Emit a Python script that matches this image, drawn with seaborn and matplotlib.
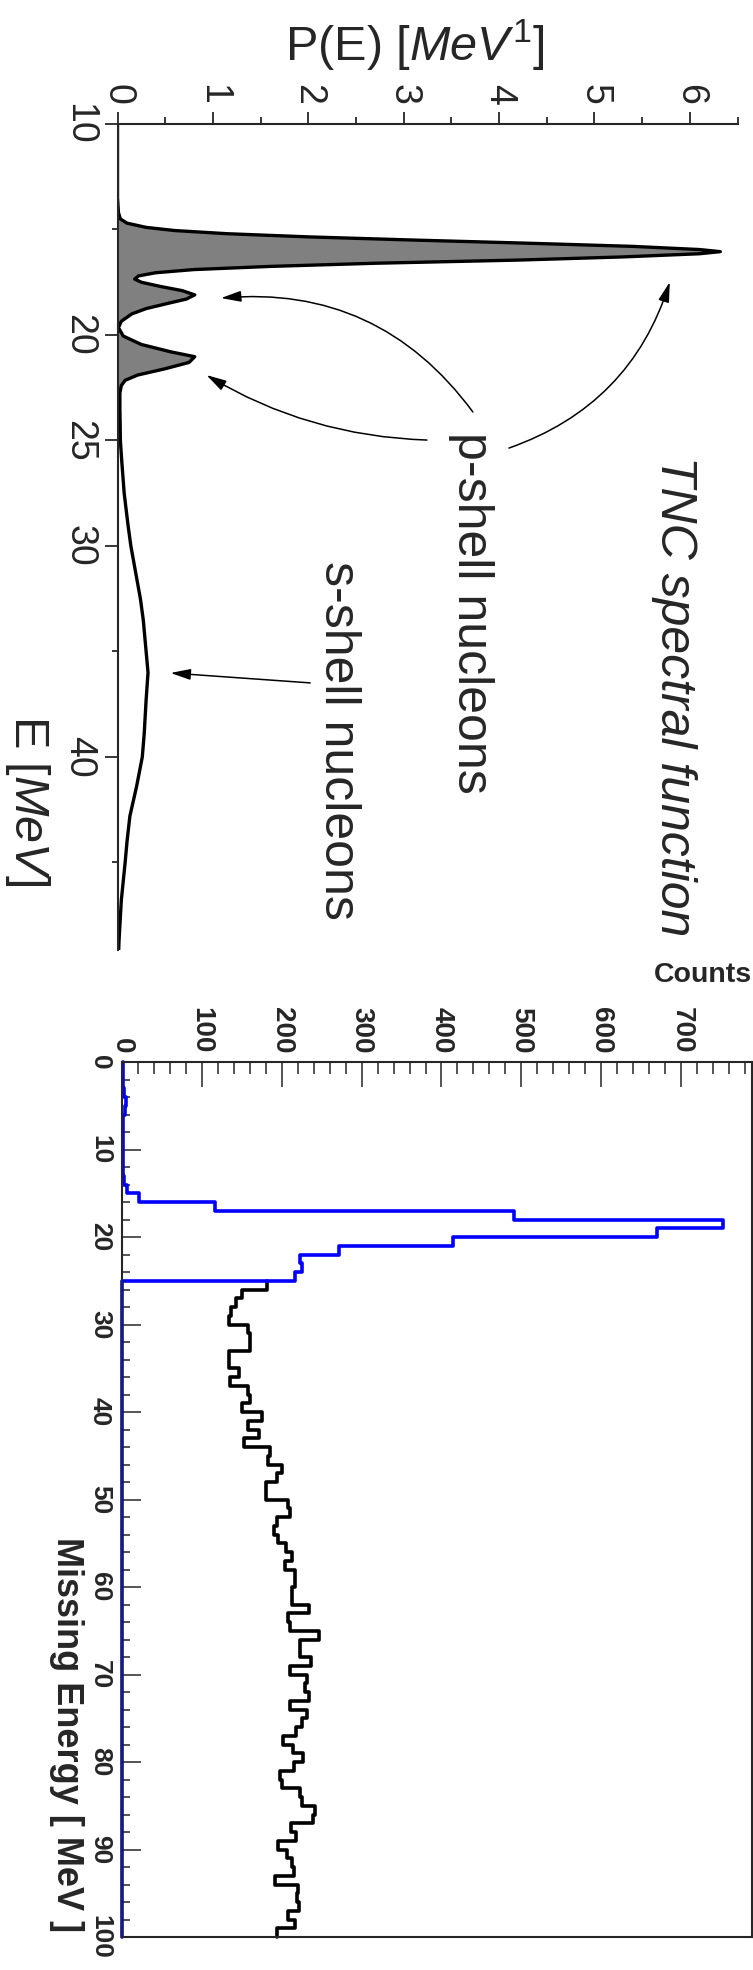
import numpy as np
import pandas as pd
import matplotlib
matplotlib.use("Agg")
import matplotlib.pyplot as plt
import seaborn as sns

sns.set_style("ticks")
plt.rcParams["font.family"] = ["Liberation Sans", "DejaVu Sans"]
plt.rcParams["mathtext.fontset"] = "custom"
plt.rcParams["mathtext.rm"] = "Liberation Sans"
plt.rcParams["mathtext.it"] = "Liberation Sans:italic"
plt.rcParams["mathtext.bf"] = "Liberation Sans:bold"

# ---- TNC spectral function P(E) ----
energy_mev = [10.0, 13.5, 14.2, 14.5, 14.7, 14.9, 15.05, 15.2, 15.35, 15.5, 15.65,
              15.8, 15.95, 16.05, 16.15, 16.3, 16.45, 16.6, 16.75, 16.9, 17.05,
              17.2, 17.35, 17.5, 17.7, 17.9, 18.1, 18.3, 18.5, 18.75, 19.0, 19.35,
              19.65, 20.05, 20.45, 20.8, 21.03, 21.3, 21.6, 21.9, 22.15, 22.4,
              22.75, 23.5, 24.3, 25.0, 26.0, 27.5, 29.0, 30.0, 31.5, 32.5, 33.5,
              35.0, 36.0, 37.3, 38.9, 40.0, 41.4, 42.8, 44.0, 45.0, 46.8, 48.7, 49.2]
prob_density = [0.0, 0.0, 0.01, 0.03, 0.1, 0.3, 0.6, 1.15, 2.0, 3.1, 4.3,
                5.4, 6.1, 6.32, 6.1, 5.3, 4.2, 2.7, 1.6, 0.8, 0.4,
                0.22, 0.18, 0.25, 0.45, 0.68, 0.81, 0.72, 0.53, 0.3, 0.15, 0.04,
                0.01, 0.06, 0.25, 0.56, 0.81, 0.75, 0.5, 0.21, 0.08, 0.04,
                0.025, 0.025, 0.028, 0.03, 0.045, 0.07, 0.11, 0.14, 0.20, 0.24, 0.27,
                0.30, 0.32, 0.30, 0.28, 0.26, 0.20, 0.13, 0.10, 0.08, 0.04, 0.016, 0.012]
p_shell_limit = 25.0

p_ticks = [0, 1, 2, 3, 4, 5, 6]
p_minor = [0.5, 1.5, 2.5, 3.5, 4.5, 5.5, 6.5]
e_ticks_top = [10, 20, 25, 30, 40]
e_minor_top = [15, 35, 45]

# ---- missing energy histograms (1 MeV bins) ----
p_edges = [0, 1, 2, 3, 4, 5, 6, 7, 8, 9, 10, 11, 12, 13, 14, 15, 16, 17, 18, 19,
           20, 21, 22, 23, 24, 25, 100]
p_counts = [2, 1, 1, 3, 5, 4, 1, 1, 1, 2, 2, 1, 2, 3, 6, 21, 116, 491, 752, 670,
            414, 272, 223, 226, 217, 0]
s_edges = list(range(25, 101))
s_counts = [182, 150, 143, 137, 134, 158, 160, 160, 134, 134,
            147, 135, 158, 160, 150, 175, 158, 172, 153, 185,
            183, 201, 194, 181, 181, 208, 210, 194, 191, 196,
            206, 213, 204, 217, 217, 213, 213, 234, 208, 211,
            247, 223, 223, 237, 211, 232, 229, 234, 211, 232,
            226, 218, 202, 214, 227, 216, 198, 201, 223, 225,
            242, 239, 212, 218, 195, 207, 213, 215, 192, 220,
            219, 222, 208, 217, 194]

W, H = 753, 1970
fig = plt.figure(figsize=(W / 100, H / 100), dpi=100)


def box(left, top, right, bottom):
    return [left / W, 1 - bottom / H, (right - left) / W, (bottom - top) / H]


def fx(x):
    return x / W


def fy(y):
    return 1 - y / H


# ================= upper panel: spectral function =================
ax1 = fig.add_axes(box(117.5, 124, 737.5, 950))
spec = pd.DataFrame({"E": energy_mev, "P": prob_density})
ax1.fill_betweenx(spec["E"], 0, spec["P"], where=spec["E"] <= p_shell_limit,
                  color="#808080", lw=0, zorder=1)
sns.lineplot(data=spec, x="P", y="E", orient="y", estimator=None, sort=True,
             color="black", lw=2.4, ax=ax1, zorder=2)
ax1.set_xlim(0, 6.5)
ax1.set_ylim(49.15, 10)
ax1.set_xlabel("")
ax1.set_ylabel("")
for s in ("right", "bottom"):
    ax1.spines[s].set_visible(False)
for s in ("top", "left"):
    ax1.spines[s].set_linewidth(1.5)
ax1.xaxis.tick_top()
ax1.set_xticks(p_ticks)
ax1.set_xticks(p_minor, minor=True)
ax1.set_yticks(e_ticks_top)
ax1.set_yticks(e_minor_top, minor=True)
ax1.tick_params(axis="x", which="major", direction="out", length=8.6, width=1.3,
                labelsize=27, labelrotation=-90, pad=5)
ax1.tick_params(axis="x", which="minor", direction="out", length=5, width=1.3)
ax1.tick_params(axis="y", which="major", direction="out", length=9.4, width=1.3,
                labelsize=27, labelrotation=-90, pad=5)
ax1.tick_params(axis="y", which="minor", direction="out", length=4.3, width=1.3)
for lbl in ax1.get_yticklabels():
    lbl.set_va("center")

fig.text(fx(415), fy(45), r"P(E) [$\mathit{MeV}^{1}$]", ha="center", va="center",
         fontsize=35)
fig.text(fx(27), fy(801), r"E [$\mathit{MeV}$]", rotation=-90, ha="center",
         va="center", fontsize=35)

ax1.text(3.706, 33.18, "p-shell nucleons", rotation=-90, ha="center", va="center",
         fontsize=36)
ax1.text(2.311, 39.24, "s-shell nucleons", rotation=-90, ha="center", va="center",
         fontsize=36)
ax1.text(5.83, 37.13, "TNC spectral function", rotation=-90, ha="center",
         va="center", fontsize=36, style="italic")

arrow_kw = dict(arrowstyle="-|>,head_length=1.1,head_width=0.3", color="black",
                lw=1.1, shrinkA=0, shrinkB=0, mutation_scale=11)
for start, tip, rad in [((4.104, 25.36), (5.79, 17.49), 0.25),
                        ((3.726, 23.65), (1.085, 18.25), 0.28),
                        ((3.244, 24.98), (0.933, 21.9), -0.13),
                        ((2.02, 36.49), (0.556, 36.02), 0.0)]:
    ax1.annotate("", xy=tip, xytext=start,
                 arrowprops=dict(connectionstyle=f"arc3,rad={rad}", **arrow_kw))

# ================= lower panel: missing energy =================
ax2 = fig.add_axes(box(121.8, 1062, 752, 1937))
s_df = pd.DataFrame({"E": s_edges[:-1], "n": s_counts})
p_df = pd.DataFrame({"E": p_edges[:-1], "n": p_counts})
sns.histplot(data=s_df, y="E", weights="n", bins=s_edges, element="step",
             fill=False, color="black", lw=2.6, ax=ax2)
sns.histplot(data=p_df, y="E", weights="n", bins=p_edges, element="step",
             fill=False, color="#0000ff", lw=2.6, ax=ax2)
for ln in ax2.lines:
    ln.set_clip_on(False)
ax2.set_xlim(0, 788.5)
ax2.set_ylim(100, 0)
ax2.set_xlabel("")
ax2.set_ylabel("")
for s in ax2.spines.values():
    s.set_linewidth(1.5)
ax2.xaxis.tick_top()
ax2.set_xticks(list(range(0, 701, 100)))
ax2.set_xticks(list(range(0, 781, 20)), minor=True)
ax2.set_yticks(list(range(0, 101, 10)))
ax2.set_yticks(list(range(0, 101, 2)), minor=True)
ax2.tick_params(axis="x", which="major", direction="in", length=18, width=1.1,
                labelsize=20, labelrotation=-90, pad=6)
ax2.tick_params(axis="x", which="minor", direction="in", length=8.6, width=1.1)
ax2.tick_params(axis="y", which="major", direction="in", length=13.7, width=1.1,
                labelsize=19, labelrotation=-90, pad=7)
ax2.tick_params(axis="y", which="minor", direction="in", length=5.8, width=1.1)
for lbl in ax2.get_xticklabels() + ax2.get_yticklabels():
    lbl.set_fontweight("bold")
for lbl in ax2.get_yticklabels():
    lbl.set_va("center")

fig.text(fx(752), fy(975), "Counts", ha="right", va="center", fontsize=20.5,
         fontweight="bold")
fig.text(fx(66), fy(1735), "Missing Energy [ MeV ]", rotation=-90, ha="center",
         va="center", fontsize=26, fontweight="bold")

fig.savefig("out.png", dpi=100)
